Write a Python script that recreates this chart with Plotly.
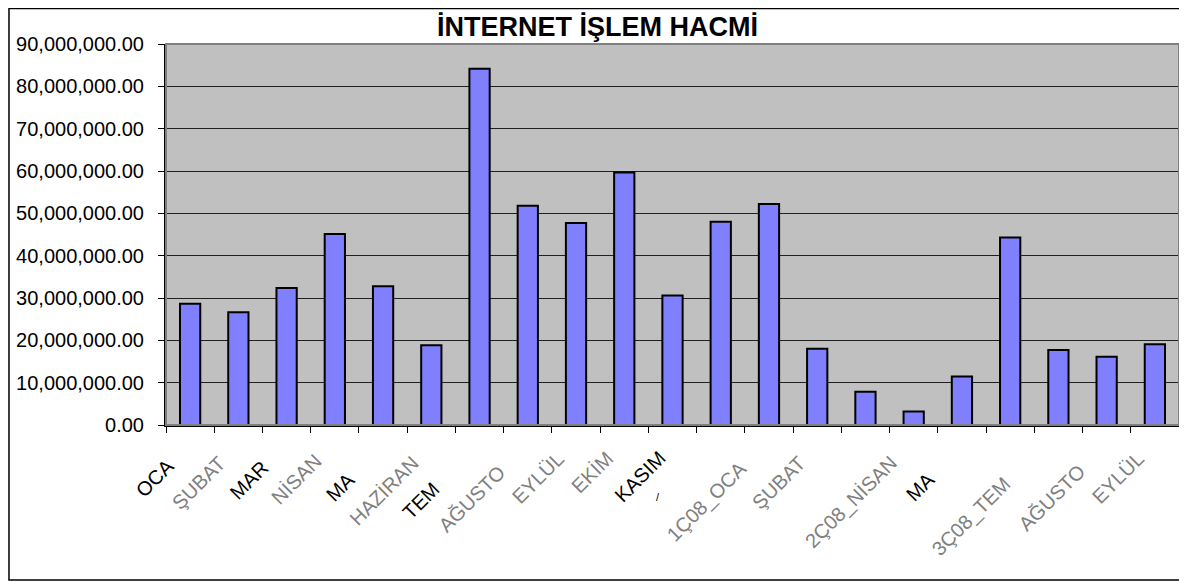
import plotly.graph_objects as go

# ---- data ----
categories = ["OCAK", "ŞUBAT", "MART", "NİSAN", "MAYIS", "HAZİRAN", "TEMMUZ",
              "AĞUSTOS", "EYLÜL", "EKİM", "KASIM", "ARALIK",
              "1Ç08_OCAK", "1Ç08_ŞUBAT", "1Ç08_MART", "2Ç08_NİSAN", "2Ç08_MAYIS",
              "2Ç08_HAZİRAN", "3Ç08_TEMMUZ", "3Ç08_AĞUSTOS", "3Ç08_EYLÜL"]
volumes = [28640000, 26660000, 32360000, 45090000, 32750000, 18830000, 84180000,
           51820000, 47710000, 59650000, 30620000, 48020000,
           52220000, 18040000, 7830000, 3160000, 11470000,
           44300000, 17720000, 16140000, 19070000]
# category labels as they appear (truncated) in the reference
tick_labels = ["OCA", "ŞUBAT", "MAR", "NİSAN", "MA", "HAZİRAN", "TEM",
               "AĞUSTO", "EYLÜL", "EKİM", "KASIM", "",
               "1Ç08_OCA", "ŞUBAT", "", "2Ç08_NİSAN", "MA",
               "", "3Ç08_TEM", "AĞUSTO", "EYLÜL"]
y_ticks = [0, 10000000, 20000000, 30000000, 40000000, 50000000, 60000000,
           70000000, 80000000, 90000000]

# ---- label styling / placement (layout, not data) ----
label_gray = [False, True, False, True, False, True, False, True, True, True, False,
              False, True, True, False, True, False, False, True, True, True]
label_offsets = [(-60, -78), (-72, -90), (-62, -80), (-69, -85), (-63, -82),
                 (-88, -106), (-83, -100), (-95, -113), (-70, -84), (-58, -74),
                 (-64, -83), (0, 0), (-108, -122), (-71, -90), (0, 0),
                 (-115, -129), (-62, -82), (0, 0), (-132, -137), (-94, -112),
                 (-69, -84)]

FONT = "Arial, Liberation Sans, sans-serif"
n = len(categories)

fig = go.Figure()
fig.add_trace(go.Bar(
    x=categories, y=volumes, width=0.42,
    marker=dict(color="#8080FF", line=dict(color="black", width=2)),
    showlegend=False,
))

annotations = []
for cat, txt, gray, (dx, dy) in zip(categories, tick_labels, label_gray, label_offsets):
    if not txt:
        continue
    annotations.append(dict(
        x=cat, y=0, xref="x", yref="paper", text=txt, showarrow=False,
        textangle=-45, xanchor="left", yanchor="bottom", xshift=dx, yshift=dy,
        font=dict(family=FONT, size=20, color="#808080" if gray else "black"),
        borderpad=0))
# small clipped fragment of the ARALIK label
annotations.append(dict(
    x=categories[11], y=0, xref="x", yref="paper", text="/", showarrow=False,
    xanchor="left", yanchor="bottom", xshift=-67, yshift=-80,
    font=dict(family=FONT, size=11, color="black")))

shapes = [
    dict(type="rect", xref="paper", yref="paper",
         x0=-0.155, x1=1.005, y0=-0.407, y1=1.093,
         line=dict(color="black", width=1.5), layer="below"),
    dict(type="rect", xref="paper", yref="paper", x0=0, x1=1, y0=0, y1=1,
         line=dict(color="#808080", width=2)),
]

fig.update_layout(
    width=1179, height=573,
    margin=dict(l=158, r=8, t=36, b=156, autoexpand=False),
    paper_bgcolor="white",
    plot_bgcolor="#C0C0C0",
    font=dict(family=FONT, color="black"),
    title=dict(text="<b>İNTERNET İŞLEM HACMİ</b>", x=0.5, xref="container",
               y=0.967, yanchor="middle",
               font=dict(family=FONT, size=27, color="black")),
    bargap=0.58,
    annotations=annotations,
    shapes=shapes,
    xaxis=dict(type="category", showticklabels=False, tickson="boundaries",
               ticks="outside", ticklen=6, tickcolor="black", tickwidth=1,
               showline=True, linecolor="black", linewidth=2,
               showgrid=False, zeroline=False, range=[-0.5, n - 0.5]),
    yaxis=dict(range=[0, 90000000], tickvals=y_ticks, tickformat=",.2f",
               ticks="outside", ticklen=6, tickcolor="black", tickwidth=1,
               ticklabelstandoff=10, automargin=False,
               tickfont=dict(family=FONT, size=20, color="black"),
               showline=True, linecolor="black", linewidth=2,
               showgrid=True, gridcolor="#202020", gridwidth=1, zeroline=False),
)

fig.write_html("out.html")
